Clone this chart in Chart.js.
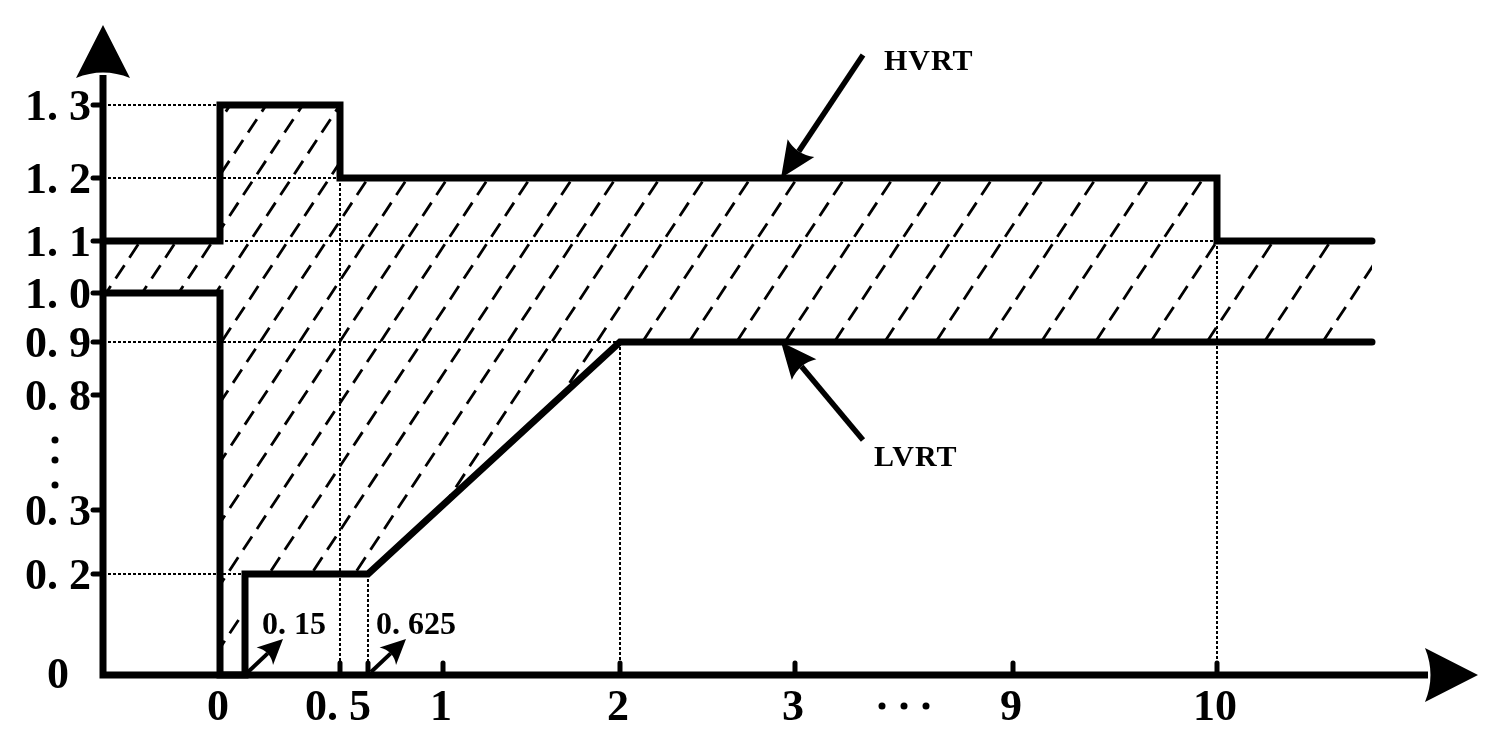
<!DOCTYPE html>
<html>
<head>
<meta charset="utf-8">
<script src="https://cdn.jsdelivr.net/npm/chart.js@4.4.0/dist/chart.umd.min.js"></script>
<style>
    html, body { margin: 0; padding: 0; background: #fff; }
    #wrap { position: relative; width: 1497px; height: 747px; }
</style>
</head>
<body>
<div id="wrap"><canvas id="rideChart"></canvas></div>
<script>
// HVRT 高电压穿越曲线 (x: 时间 s, y: 电压 p.u.)
const hvrtX = [-1, 0, 0, 0.5, 0.5, 10, 10, 11];
const hvrtY = [1.1, 1.1, 1.3, 1.3, 1.2, 1.2, 1.1, 1.1];
// LVRT 低电压穿越曲线
const lvrtX = [-1, 0, 0, 0.15, 0.15, 0.625, 2, 11];
const lvrtY = [1.0, 1.0, 0, 0, 0.2, 0.2, 0.9, 0.9];

// 坐标轴刻度
const xTickValues = [0, 0.5, 0.625, 1, 2, 3, 9, 10];
const xTickLabels = ['0', '0. 5', '', '1', '2', '3', '9', '10'];
const yTickValues = [0.2, 0.3, 0.8, 0.9, 1.0, 1.1, 1.2, 1.3];
const yTickLabels = ['0. 2', '0. 3', '0. 8', '0. 9', '1. 0', '1. 1', '1. 2', '1. 3'];
const markValues = [0.15, 0.625];
const markLabels = ['0. 15', '0. 625'];

// 示意图的坐标轴是折断的, 用分段线性映射到绘图坐标
const xBreakReal = [-1, 0, 0.15, 0.5, 0.625, 1, 2, 3, 9, 10, 11];
const xBreakPos = [0, 117, 142, 237, 265, 340, 517, 692, 910, 1114, 1269];
const yBreakReal = [0, 0.2, 0.3, 0.8, 0.9, 1.0, 1.1, 1.2, 1.3];
const yBreakPos = [0, 101, 165, 280, 333, 382, 434, 497, 570];

function warp(v, real, pos) {
    for (let i = 0; i < real.length - 1; i++) {
        if (v <= real[i + 1]) {
            const t = (v - real[i]) / (real[i + 1] - real[i]);
            return pos[i] + t * (pos[i + 1] - pos[i]);
        }
    }
    return pos[pos.length - 1];
}
const mapX = v => warp(v, xBreakReal, xBreakPos);
const mapY = v => warp(v, yBreakReal, yBreakPos);
const toPoints = (xs, ys) => xs.map((x, i) => ({ x: mapX(x), y: mapY(ys[i]) }));

// 辅助虚线 [x1, y1, x2, y2]
const guides = [
    [-1, 1.3, 0, 1.3],
    [-1, 1.2, 0.5, 1.2],
    [0, 1.1, 10, 1.1],
    [-1, 0.9, 2, 0.9],
    [-1, 0.2, 0.15, 0.2],
    [0.5, 1.2, 0.5, 0],
    [0.625, 0.2, 0.625, 0],
    [2, 0.9, 2, 0],
    [10, 1.1, 10, 0]
];

const SERIF = '"Liberation Serif", "DejaVu Serif", serif';

function arrow(ctx, x1, y1, x2, y2, width, headLen, headHalf) {
    const a = Math.atan2(y2 - y1, x2 - x1);
    const bx = x2 - Math.cos(a) * headLen;
    const by = y2 - Math.sin(a) * headLen;
    ctx.beginPath();
    ctx.lineWidth = width;
    ctx.lineCap = 'butt';
    ctx.moveTo(x1, y1);
    ctx.lineTo(bx + Math.cos(a) * 4, by + Math.sin(a) * 4);
    ctx.stroke();
    ctx.beginPath();
    ctx.moveTo(x2, y2);
    ctx.lineTo(bx - Math.sin(a) * headHalf, by + Math.cos(a) * headHalf);
    ctx.quadraticCurveTo(bx + Math.cos(a) * 8, by + Math.sin(a) * 8,
        bx + Math.sin(a) * headHalf, by - Math.cos(a) * headHalf);
    ctx.closePath();
    ctx.fill();
}

function dot(ctx, x, y, r) {
    ctx.beginPath();
    ctx.arc(x, y, r, 0, Math.PI * 2);
    ctx.fill();
}

const schematicPlugin = {
    id: 'schematic',
    beforeDatasetsDraw(chart) {
        const { ctx, chartArea, scales } = chart;
        const px = v => scales.x.getPixelForValue(mapX(v));
        const py = v => scales.y.getPixelForValue(mapY(v));
        const upper = chart.getDatasetMeta(0).data;
        const lower = chart.getDatasetMeta(1).data;

        // 阴影区域: 斜虚线
        ctx.save();
        ctx.beginPath();
        upper.forEach((p, i) => i ? ctx.lineTo(p.x, p.y) : ctx.moveTo(p.x, p.y));
        lower.slice().reverse().forEach(p => ctx.lineTo(p.x, p.y));
        ctx.closePath();
        ctx.clip();
        ctx.strokeStyle = '#000';
        ctx.lineWidth = 2.8;
        ctx.setLineDash([16, 9]);
        const slope = 0.66;
        const h = chartArea.bottom - chartArea.top;
        const yRef = py(1.1);
        let x = chartArea.left - h * slope;
        while (x < chartArea.right) {
            ctx.beginPath();
            ctx.moveTo(x, chartArea.bottom);
            ctx.lineTo(x + h * slope, chartArea.top);
            ctx.stroke();
            const xr = x + (chartArea.bottom - yRef) * slope;
            x += 36 + Math.max(0, xr - 150) * 0.019;
        }
        ctx.restore();

        // 辅助点线
        ctx.save();
        ctx.strokeStyle = '#000';
        ctx.lineWidth = 2;
        ctx.setLineDash([3, 2]);
        guides.forEach(g => {
            ctx.beginPath();
            ctx.moveTo(px(g[0]), py(g[1]));
            ctx.lineTo(px(g[2]), py(g[3]));
            ctx.stroke();
        });
        ctx.restore();
    },
    afterDatasetsDraw(chart) {
        const { ctx, chartArea, scales } = chart;
        const px = v => scales.x.getPixelForValue(mapX(v));
        const py = v => scales.y.getPixelForValue(mapY(v));
        const L = chartArea.left, B = chartArea.bottom;
        const T = chartArea.top, R = chartArea.right;

        ctx.save();
        ctx.fillStyle = '#000';
        ctx.strokeStyle = '#000';

        // 坐标轴
        ctx.lineWidth = 7;
        ctx.lineCap = 'butt';
        ctx.beginPath();
        ctx.moveTo(L, B + 3.5);
        ctx.lineTo(L, T + 50);
        ctx.moveTo(L - 3.5, B);
        ctx.lineTo(R - 50, B);
        ctx.stroke();
        ctx.beginPath();
        ctx.moveTo(L, T);
        ctx.lineTo(L + 27, T + 53);
        ctx.quadraticCurveTo(L, T + 42, L - 27, T + 53);
        ctx.closePath();
        ctx.fill();
        ctx.beginPath();
        ctx.moveTo(R, B);
        ctx.lineTo(R - 53, B + 27);
        ctx.quadraticCurveTo(R - 42, B, R - 53, B - 27);
        ctx.closePath();
        ctx.fill();

        // 刻度
        ctx.lineWidth = 5;
        ctx.lineCap = 'round';
        yTickValues.forEach(v => {
            ctx.beginPath();
            ctx.moveTo(L - 10, py(v));
            ctx.lineTo(L, py(v));
            ctx.stroke();
        });
        xTickValues.forEach(v => {
            if (v === 0) return;
            ctx.beginPath();
            ctx.moveTo(px(v), B);
            ctx.lineTo(px(v), B - 12);
            ctx.stroke();
        });

        // 刻度文字
        ctx.font = 'bold 44px ' + SERIF;
        ctx.textBaseline = 'alphabetic';
        ctx.textAlign = 'right';
        yTickValues.forEach((v, i) => ctx.fillText(yTickLabels[i], L - 12, py(v) + 15));
        ctx.textAlign = 'center';
        ctx.fillText('0', L - 45, B + 13);
        xTickValues.forEach((v, i) => {
            if (xTickLabels[i]) ctx.fillText(xTickLabels[i], px(v) - 2, B + 45);
        });

        // 省略号
        [440, 460, 485].forEach(y => dot(ctx, L - 48, y, 3.5));
        [0, 22, 44].forEach(d => dot(ctx, (px(3) + px(9)) / 2 - 22 + d, B + 31, 3.5));

        // 0.15 / 0.625 标注
        ctx.textAlign = 'left';
        ctx.font = 'bold 32px ' + SERIF;
        markValues.forEach((v, i) => {
            const x0 = px(v) + 3, y0 = B - 3;
            arrow(ctx, x0, y0, x0 + 35, y0 - 33, 4, 25, 12);
            ctx.fillText(markLabels[i], px(v) + (i ? 8 : 17), B - 41);
        });

        // HVRT / LVRT 指示箭头
        ctx.font = 'bold 30px ' + SERIF;
        ctx.letterSpacing = '1px';
        const tipX = px(2.92);
        const hTip = py(1.2), lTip = py(0.9);
        arrow(ctx, tipX + 82, hTip - 123, tipX, hTip, 5.5, 36, 16);
        ctx.fillText('HVRT', tipX + 103, hTip - 108);
        arrow(ctx, tipX + 82, lTip + 98, tipX, lTip, 5.5, 36, 16);
        ctx.fillText('LVRT', tipX + 93, lTip + 124);
        ctx.restore();
    }
};

const rideChart = new Chart(document.getElementById('rideChart'), {
    type: 'line',
    data: {
        datasets: [
            {
                label: 'HVRT',
                data: toPoints(hvrtX, hvrtY),
                borderColor: '#000',
                borderWidth: 7,
                pointRadius: 0,
                tension: 0,
                borderJoinStyle: 'miter',
                borderCapStyle: 'round',
                clip: false
            },
            {
                label: 'LVRT',
                data: toPoints(lvrtX, lvrtY),
                borderColor: '#000',
                borderWidth: 7,
                pointRadius: 0,
                tension: 0,
                borderJoinStyle: 'miter',
                borderCapStyle: 'round',
                clip: false
            }
        ]
    },
    options: {
        responsive: true,
        maintainAspectRatio: false,
        animation: false,
        layout: {
            padding: { left: 103, right: 19, top: 25, bottom: 72 }
        },
        scales: {
            x: { type: 'linear', display: false, min: 0, max: 1375 },
            y: { type: 'linear', display: false, min: 0, max: 650 }
        },
        plugins: {
            legend: { display: false },
            tooltip: { enabled: false }
        }
    },
    plugins: [schematicPlugin]
});
</script>
</body>
</html>
